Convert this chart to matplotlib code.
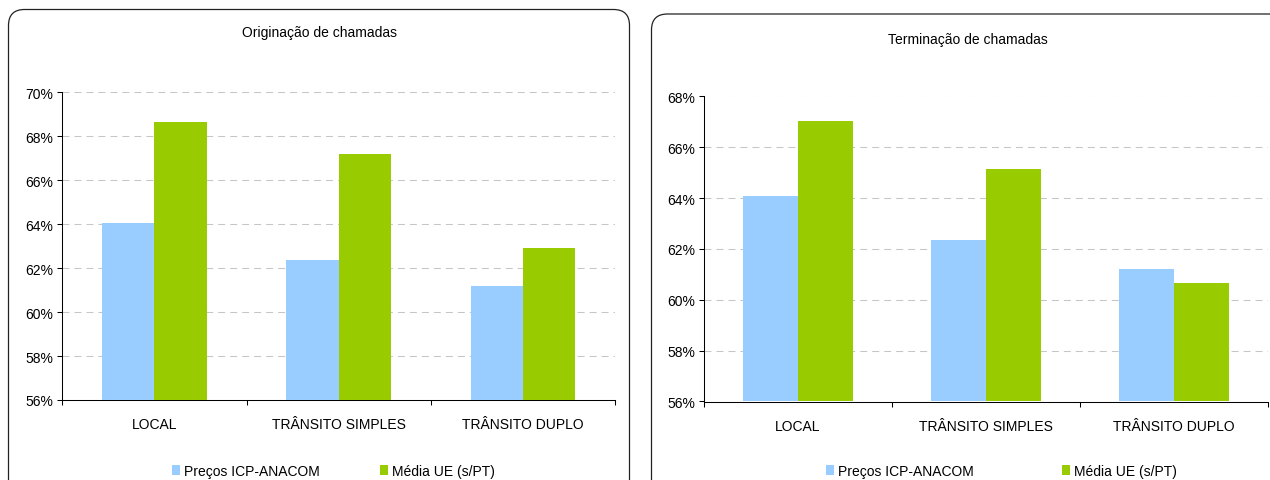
import matplotlib
matplotlib.use("Agg")
import matplotlib.pyplot as plt
from matplotlib.patches import FancyBboxPatch
from matplotlib.transforms import IdentityTransform
import numpy as np

plt.rcParams['font.family'] = ['Liberation Sans', 'DejaVu Sans']

categories = ["LOCAL", "TRÂNSITO SIMPLES", "TRÂNSITO DUPLO"]
series_names = ["Preços ICP-ANACOM", "Média UE (s/PT)"]
orig_icp = [64.05, 62.37, 61.19]
orig_ue = [68.65, 67.19, 62.92]
term_icp = [64.08, 62.36, 61.22]
term_ue = [67.04, 65.15, 60.67]
orig_title = "Originação de chamadas"
term_title = "Terminação de chamadas"
orig_yticks = [56, 58, 60, 62, 64, 66, 68, 70]
term_yticks = [56, 58, 60, 62, 64, 66, 68]

BLUE = "#99CCFF"
GREEN = "#99CC00"
FS = 10

W, H = 1270, 481
fig = plt.figure(figsize=(W / 100, H / 100), dpi=100)

# panel boxes (pixel coordinates, origin bottom-left)
for (x0, x1, ytop) in [(8.5, 629.5, 470.5), (651.5, 1320, 466)]:
    box = FancyBboxPatch((x0 + 16, -40), (x1 - x0) - 32, (ytop + 40) - 16,
                         boxstyle="round,pad=16", transform=IdentityTransform(),
                         facecolor="white", edgecolor="#222222", linewidth=0.9,
                         zorder=0)
    fig.patches.append(box)


def make_panel(rect, icp, ue, yticks, width, title, title_xy, legend_x, colspace):
    ax = fig.add_axes(rect)
    ax.set_zorder(2)
    ax.patch.set_alpha(0)
    x = np.arange(len(categories))
    b1 = ax.bar(x - width / 2, [v - yticks[0] for v in icp], width, bottom=yticks[0],
                color=BLUE, zorder=3, label=series_names[0], linewidth=0)
    b2 = ax.bar(x + width / 2, [v - yticks[0] for v in ue], width, bottom=yticks[0],
                color=GREEN, zorder=3, label=series_names[1], linewidth=0)
    ax.set_xlim(-0.5, len(categories) - 0.5)
    ax.set_ylim(yticks[0], yticks[-1])
    ax.set_yticks(yticks)
    ax.set_yticklabels([f"{t}%" for t in yticks], fontsize=FS)
    for t in yticks[1:]:
        ax.axhline(t, color="#c6c6c6", linewidth=0.75,
                   linestyle=(0, (6.7, 4.8)), zorder=1)
    ax.set_xticks(np.arange(len(categories) + 1) - 0.5)
    ax.set_xticklabels([])
    ax.set_xticks(x, minor=True)
    ax.set_xticklabels(categories, minor=True, fontsize=FS)
    ax.tick_params(axis='x', which='major', direction='out', length=3.5,
                   width=0.75, color='black')
    ax.tick_params(axis='x', which='minor', length=0, pad=12.5)
    ax.tick_params(axis='y', direction='out', length=3.5, width=0.75, pad=3,
                   color='black')
    for s in ['top', 'right']:
        ax.spines[s].set_visible(False)
    for s in ['left', 'bottom']:
        ax.spines[s].set_linewidth(0.75)
        ax.spines[s].set_color('black')
    fig.text(title_xy[0] / W, 1 - title_xy[1] / H, title, ha='center',
             va='center', fontsize=FS)
    ax.legend(handles=[b1, b2], labels=series_names, loc='center left',
              bbox_to_anchor=(legend_x / W, 1 - 472 / H),
              bbox_transform=fig.transFigure, ncol=2, frameon=False,
              borderpad=0, borderaxespad=0, handlelength=0.58,
              handleheight=0.72, handletextpad=0.25, columnspacing=colspace,
              fontsize=FS)
    return ax


make_panel([62.3 / W, 1 - 401 / H, (615 - 62.3) / W, (401 - 93.3) / H],
           orig_icp, orig_ue, orig_yticks, 0.284, orig_title, (320, 33), 172, 4.4)
make_panel([704 / W, 1 - 402.5 / H, (1268.3 - 704) / W, (402.5 - 97.5) / H],
           term_icp, term_ue, term_yticks, 0.292, term_title, (968, 40), 826, 6.4)

fig.savefig("out.png", dpi=100)
